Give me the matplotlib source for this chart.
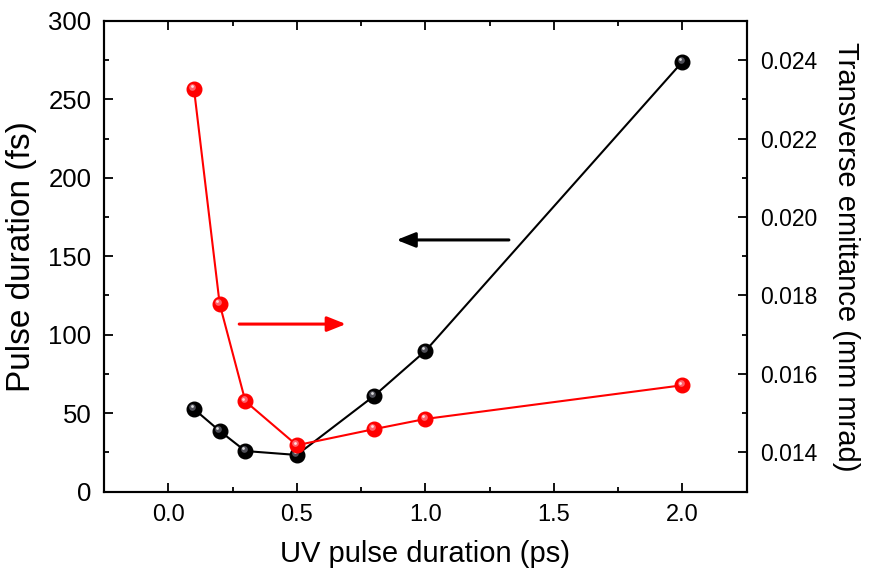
import matplotlib
matplotlib.use("Agg")
import matplotlib.pyplot as plt
from matplotlib.ticker import MultipleLocator
from matplotlib.transforms import offset_copy

plt.rcParams['font.family'] = ['Liberation Sans', 'DejaVu Sans']

uv_ps = [0.1, 0.2, 0.3, 0.5, 0.8, 1.0, 2.0]
pulse_fs = [52.6, 38.6, 25.8, 23.3, 60.9, 89.6, 274.0]
emit = [0.02327, 0.01778, 0.01530, 0.01418, 0.01459, 0.01485, 0.01571]

# arrows: (tip, tail) in data coords of their own axis
black_arrow = ((0.888, 160.4), (1.325, 160.4))
red_arrow = ((0.691, 0.01727), (0.276, 0.01727))


def balls(ax, fig, x, y, color, shine, lcolor):
    ax.plot(x, y, '-', color=lcolor, lw=1.5, zorder=2)
    ax.plot(x, y, 'o', color=color, ms=10.5, mec=color, zorder=3)
    t1 = offset_copy(ax.transData, fig=fig, x=-1.7, y=1.9, units='dots')
    ax.plot(x, y, 'o', color=shine, ms=4.8, mew=0, alpha=0.55, transform=t1, zorder=4)
    t2 = offset_copy(ax.transData, fig=fig, x=-2.3, y=2.7, units='dots')
    ax.plot(x, y, 'o', color='white', ms=2.0, mew=0, alpha=0.8, transform=t2, zorder=5)


fig = plt.figure(figsize=(8.71, 5.74), dpi=100)
ax = fig.add_axes([104 / 871, 1 - 491.5 / 574, (746.7 - 104) / 871, (491.5 - 21) / 574])
ax2 = ax.twinx()

balls(ax, fig, uv_ps, pulse_fs, 'black', '#9090a0', 'black')
balls(ax2, fig, uv_ps, emit, '#ff0000', '#ffb0c0', '#ff0000')

ax.annotate('', xy=black_arrow[0], xytext=black_arrow[1],
            arrowprops=dict(arrowstyle='-|>,head_length=0.75,head_width=0.3',
                            mutation_scale=15, color='black', lw=2.2,
                            shrinkA=0, shrinkB=0))
ax2.annotate('', xy=red_arrow[0], xytext=red_arrow[1],
             arrowprops=dict(arrowstyle='-|>,head_length=0.75,head_width=0.3',
                             mutation_scale=15, color='#ff0000', lw=2.2,
                             shrinkA=0, shrinkB=0))

ax.set_xlim(-0.25, 2.25)
ax.set_ylim(0, 300)
ax2.set_ylim(0.013, 0.025)

ax.xaxis.set_major_locator(MultipleLocator(0.5))
ax.xaxis.set_minor_locator(MultipleLocator(0.25))
ax.yaxis.set_major_locator(MultipleLocator(50))
ax.yaxis.set_minor_locator(MultipleLocator(25))
ax2.yaxis.set_minor_locator(MultipleLocator(0.001))
ax2.set_yticks([0.014, 0.016, 0.018, 0.020, 0.022, 0.024])
ax2.set_yticklabels(['0.014', '0.016', '0.018', '0.020', '0.022', '0.024'])
ax.xaxis.set_major_formatter(plt.FuncFormatter(lambda v, p: f'{v:.1f}'))

ax.tick_params(axis='x', which='both', direction='in', top=True, bottom=True,
               labelsize=17, pad=9)
ax.tick_params(axis='y', which='both', direction='in', left=True, right=False,
               labelsize=18.5, pad=9)
ax2.tick_params(axis='y', which='both', direction='in', left=False, right=True,
                labelsize=16.5, pad=10)
for a in (ax, ax2):
    a.tick_params(which='major', length=6.5, width=1.3)
    a.tick_params(which='minor', length=3.6, width=1.3)
    for s in a.spines.values():
        s.set_linewidth(1.5)

ax.set_xlabel('UV pulse duration (ps)', fontsize=21, labelpad=10)
ax.set_ylabel('Pulse duration (fs)', fontsize=24, labelpad=8)
ax2.set_ylabel('Transverse emittance (mm mrad)', fontsize=21, rotation=-90, labelpad=30)

fig.savefig('out.png', dpi=100)
